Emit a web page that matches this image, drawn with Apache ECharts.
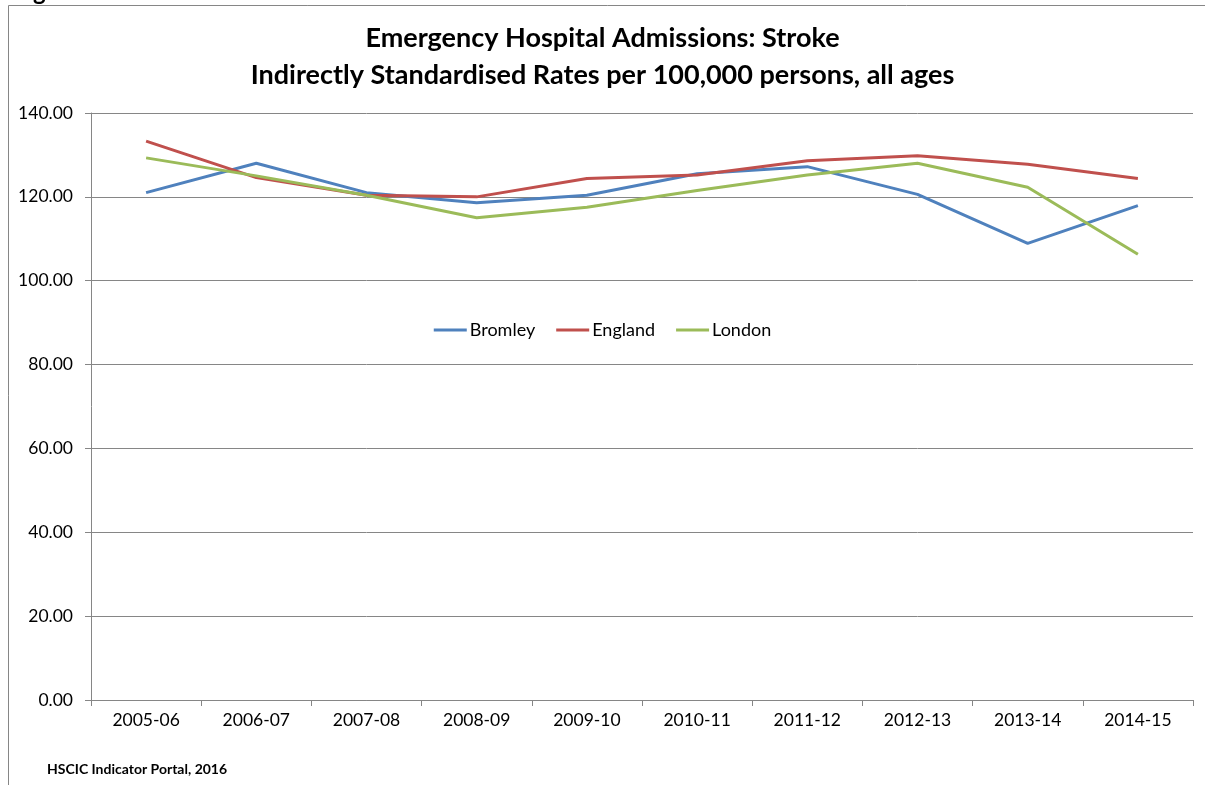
<!DOCTYPE html>
<html><head><meta charset="utf-8">
<script src="https://cdn.jsdelivr.net/npm/echarts@6/dist/echarts.min.js"></script>
<style>html,body{margin:0;padding:0;background:#fff}#c{width:1205px;height:785px}</style>
</head><body><div id="c"></div>
<script>
const categories = ['2005-06','2006-07','2007-08','2008-09','2009-10','2010-11','2011-12','2012-13','2013-14','2014-15'];
const bromley = [121.0, 128.0, 121.0, 118.6, 120.4, 125.5, 127.2, 120.6, 108.9, 117.9];
const england = [133.3, 124.6, 120.4, 120.0, 124.4, 125.2, 128.6, 129.8, 127.8, 124.4];
const london  = [129.3, 125.0, 120.4, 115.0, 117.5, 121.5, 125.2, 128.0, 122.3, 106.3];
const titleLines = ['Emergency Hospital Admissions: Stroke','Indirectly Standardised Rates per 100,000 persons, all ages'];
const footer = 'HSCIC Indicator Portal, 2016';

const FONT = 'Lato, "Open Sans", sans-serif';
const chart = echarts.init(document.getElementById('c'));
const mk = (name, data, color) => ({
  name, type: 'line', data, symbol: 'none', smooth: false,
  lineStyle: {color, width: 3}, itemStyle: {color}
});
chart.setOption({
  animation: false,
  textStyle: {fontFamily: FONT},
  title: {
    text: titleLines.join('\n'), left: 'center', top: 15,
    textStyle: {fontFamily: FONT, fontWeight: 'bold', fontSize: 27, color: '#000', lineHeight: 37}
  },
  legend: {
    top: 316, left: 'center', itemWidth: 33, itemHeight: 3, icon: 'rect', itemGap: 21,
    textStyle: {fontFamily: FONT, fontSize: 18, color: '#000', padding: [0,0,0,-2]}
  },
  grid: {left: 91, right: 12, top: 113, bottom: 85, containLabel: false},
  xAxis: {
    type: 'category', data: categories, boundaryGap: true,
    axisLine: {lineStyle: {color: '#868686', width: 1}},
    axisTick: {show: true, length: 6, lineStyle: {color: '#868686'}},
    axisLabel: {color: '#000', fontSize: 17.5, margin: 11, fontFamily: FONT}
  },
  yAxis: {
    type: 'value', min: 0, max: 140, interval: 20,
    axisLine: {show: true, lineStyle: {color: '#868686', width: 1}},
    axisTick: {show: true, length: 6, lineStyle: {color: '#868686'}},
    splitLine: {lineStyle: {color: '#868686', width: 1}},
    axisLabel: {color: '#000', fontSize: 17.5, margin: 18, fontFamily: FONT, formatter: v => v.toFixed(2)}
  },
  graphic: [
    {type: 'rect', shape: {x: 8.5, y: 5.5, width: 1300, height: 900}, style: {fill: 'none', stroke: '#868686', lineWidth: 1}, silent: true, z: -10},
    {type: 'text', x: 33, y: -20, style: {text: 'g', fontFamily: FONT, fontWeight: 'bold', fontSize: 24, fill: '#000'}},
    {type: 'text', left: 47, top: 762, style: {text: footer, fontFamily: FONT, fontWeight: 'bold', fontSize: 14, fill: '#000'}}
  ],
  series: [mk('Bromley', bromley, '#4F81BD'), mk('England', england, '#C0504D'), mk('London', london, '#9BBB59')]
});
</script></body></html>
